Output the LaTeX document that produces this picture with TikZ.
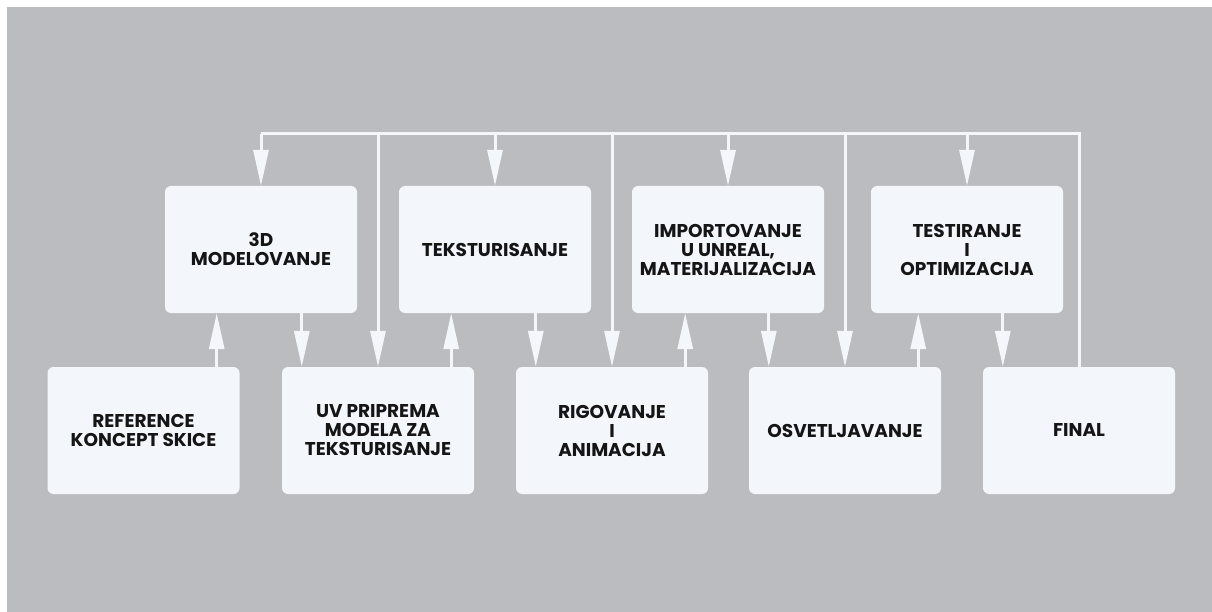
\documentclass[tikz,border=0pt]{standalone}
\usepackage{fontspec}
\setmainfont{Poppins}
\usetikzlibrary{arrows.meta,positioning}
\definecolor{panelgray}{HTML}{BBBCC0}
\definecolor{cardwhite}{HTML}{F3F7FC}
\definecolor{ink}{HTML}{151515}
\tikzset{
 card/.style={fill=cardwhite,rounded corners=6pt,minimum width=192pt,
  minimum height=127pt,inner sep=0pt,align=center,text=ink,
  font=\fontsize{18.5}{19}\selectfont\bfseries},
 busline/.style={draw=cardwhite,line width=3pt,line join=miter},
 flow/.style={busline,-{Triangle[length=36pt,width=15pt]}}
}
\begin{document}
\begin{tikzpicture}[x=1pt,y=-1pt]
 \fill[white] (0,0) rectangle (1212,612);
 \fill[panelgray] (7,7) rectangle (1212,612);
 % upper row of stages
 \foreach \name/\cx/\txt in {mod/261/{3D\\MODELOVANJE},tex/495/{TEKSTURISANJE},
  imp/728/{IMPORTOVANJE\\U UNREAL,\\MATERIJALIZACIJA},tes/967/{TESTIRANJE\\I\\OPTIMIZACIJA}}
  \node[card] (\name) at (\cx,249.5) {\txt};
 % lower row of stages
 \foreach \name/\cx/\txt in {ref/143.5/{REFERENCE\\KONCEPT SKICE},
  uv/378/{UV PRIPREMA\\MODELA ZA\\TEKSTURISANJE},rig/612/{RIGOVANJE\\I\\ANIMACIJA},
  osv/845/{OSVETLJAVANJE},fin/1079/{FINAL}}
  \node[card] (\name) at (\cx,430.5) {\txt};
 % zig-zag between the rows
 \foreach \lo/\hi in {ref/mod,uv/tex,rig/imp,osv/tes}
  \draw[flow] ([xshift=-23pt]\lo.north east) -- ([xshift=-23pt]\lo.north east |- \hi.south);
 \foreach \hi/\lo in {mod/uv,tex/rig,imp/osv,tes/fin}
  \draw[flow] ([xshift=20pt]\lo.north west |- \hi.south) -- ([xshift=20pt]\lo.north west);
 % feedback bus from FINAL
 \coordinate (bus) at (0,134);
 \draw[busline] (fin.north) -- (fin.north |- bus) -- (mod.north |- bus);
 \foreach \n in {mod,uv,tex,rig,imp,osv,tes}
  \draw[flow] (\n.north |- bus) -- (\n.north);
\end{tikzpicture}
\end{document}
